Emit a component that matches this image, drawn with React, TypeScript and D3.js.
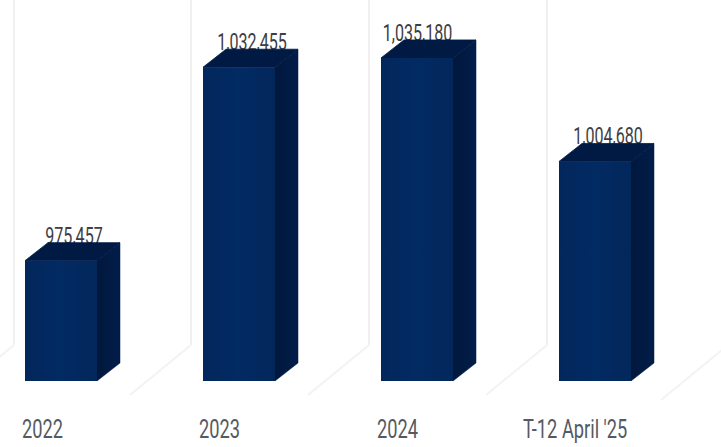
import React from "react";
import * as d3 from "d3";

const categories = ["2022", "2023", "2024", "T-12 April '25"];
const values = [975457, 1032455, 1035180, 1004680];
const wallGuides = [14, 191, 369, 547];

const width = 721;
const height = 447;
const baseY = 381;
const depthX = 23;
const depthY = 18;
const wallBreakY = 345;
const wallDropX = 61;
const wallDropY = 50;
const font = "Roboto, sans-serif";
const valueSqueeze = 0.7;
const tickSqueeze = 0.73;

const x = d3.scaleBand<string>().domain(categories).range([25, 631]).paddingInner(0.5955).paddingOuter(0);
const y = d3.scaleLinear().domain([940000, 1040000]).range([baseY, 41.6]);
const format = d3.format(",");

const polygon = (pts: [number, number][]) => d3.line()(pts) + "Z";

// The 2024 label is pulled left of its bar; the others are centred over the full 3D footprint.
const valueLabelCentre = (c: string) => x(c)! + (c === "2024" ? 36.5 : 49);
const tickLabelStart = (c: string) => x(c)! - (c.length > 4 ? 36 : c === "2022" ? 3 : 4);

export default function App() {
  return (
    <svg
      width={width}
      height={height}
      viewBox={`0 0 ${width} ${height}`}
      style={{ position: "absolute", left: 0, top: 0, background: "#fff" }}
    >
      <defs>
        <linearGradient id="frontFace" x1="0" x2="1" y1="0" y2="0">
          <stop offset="0" stopColor="#02275c" />
          <stop offset="0.5" stopColor="#022b63" />
          <stop offset="1" stopColor="#02275b" />
        </linearGradient>
        <linearGradient id="sideFace" x1="0" x2="1" y1="0" y2="0">
          <stop offset="0" stopColor="#01183d" />
          <stop offset="1" stopColor="#011d4a" />
        </linearGradient>
      </defs>

      {/* Walls of the 3D plot: a vertical edge that folds toward the floor */}
      <g fill="none">
        {wallGuides.map((gx) => (
          <g key={gx}>
            <path d={`M${gx},0V${wallBreakY}`} stroke="#ebe8ea" strokeWidth={1.4} />
            <path
              d={`M${gx},${wallBreakY}L${gx - wallDropX},${wallBreakY + wallDropY}`}
              stroke="#f4f2f2"
              strokeWidth={2}
            />
          </g>
        ))}
        <path
          d={`M${722},${wallBreakY + 5}L${722 - wallDropX},${wallBreakY + wallDropY + 5}`}
          stroke="#f4f2f2"
          strokeWidth={2}
        />
      </g>

      {/* Value labels sit behind the bars, so the top face trims their lower edge */}
      <g fontFamily={font} fontSize={23} fill="#3d3d45" textAnchor="middle">
        {categories.map((c, i) => (
          <text
            key={c}
            transform={`translate(${valueLabelCentre(c)},${y(values[i]) - depthY + 1}) scale(${valueSqueeze},1)`}
          >
            {format(values[i])}
          </text>
        ))}
      </g>

      {categories.map((c, i) => {
        const x0 = x(c)!;
        const x1 = x0 + x.bandwidth();
        const top = y(values[i]);
        return (
          <g key={c}>
            {/* A hairline in the fill colour closes the antialiasing seam between faces */}
            <path
              d={polygon([[x0, top], [x0 + depthX, top - depthY], [x1 + depthX, top - depthY], [x1, top]])}
              fill="#011a44"
              stroke="#011a44"
              strokeWidth={0.8}
            />
            <path
              d={polygon([[x1, top], [x1 + depthX, top - depthY], [x1 + depthX, baseY - depthY], [x1, baseY]])}
              fill="url(#sideFace)"
              stroke="#011a44"
              strokeWidth={0.5}
            />
            <rect x={x0} y={top} width={x.bandwidth()} height={baseY - top} fill="url(#frontFace)" />
          </g>
        );
      })}

      <g fontFamily={font} fontSize={25} fill="#555a62">
        {categories.map((c) => (
          <text key={c} transform={`translate(${tickLabelStart(c)},438) scale(${tickSqueeze},1)`}>
            {c}
          </text>
        ))}
      </g>
    </svg>
  );
}
